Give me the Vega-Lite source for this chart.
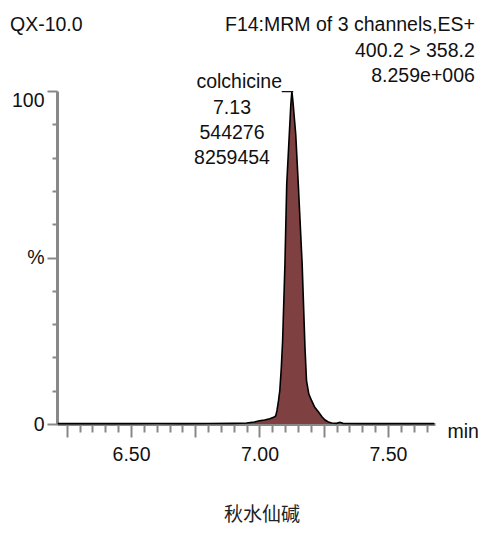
{
  "$schema": "https://vega.github.io/schema/vega-lite/v6.json",
  "width": 378,
  "height": 333,
  "autosize": {"type": "none"},
  "padding": {"left": 57, "top": 91, "right": 49, "bottom": 110},
  "background": "white",
  "config": {"view": {"stroke": null}, "font": "Liberation Sans"},
  "title": {
    "text": "秋水仙碱",
    "orient": "bottom",
    "anchor": "middle",
    "dx": 16,
    "offset": 42,
    "font": "Noto Sans CJK SC",
    "fontSize": 19,
    "fontWeight": "normal",
    "color": "#222222"
  },
  "encoding": {
    "x": {
      "field": "t",
      "type": "quantitative",
      "scale": {"domain": [6.212, 7.683], "nice": false, "zero": false},
      "axis": {
        "values": [6.25, 6.3, 6.35, 6.4, 6.45, 6.5, 6.55, 6.6, 6.65, 6.7, 6.75, 6.8, 6.85, 6.9, 6.95, 7.0, 7.05, 7.1, 7.15, 7.2, 7.25, 7.3, 7.35, 7.4, 7.45, 7.5, 7.55, 7.6, 7.65],
        "labelExpr": "abs(datum.value*2 - round(datum.value*2)) < 0.001 ? format(datum.value, '.2f') : ''",
        "tickSize": {"condition": {"test": "abs(datum.value*4 - round(datum.value*4)) < 0.001", "value": 13}, "value": 8},
        "tickColor": "#888888",
        "tickWidth": 2,
        "domainColor": "#888888",
        "domainWidth": 3,
        "grid": false,
        "labelOverlap": false,
        "labelFlush": false,
        "labelFont": "Liberation Sans",
        "labelFontSize": 19.5,
        "labelColor": "#111111",
        "labelPadding": 8,
        "title": "min",
        "titleX": 390,
        "titleY": 13,
        "titleAlign": "left",
        "titleBaseline": "alphabetic",
        "titleFont": "Liberation Sans",
        "titleFontSize": 19.5,
        "titleFontWeight": "normal",
        "titleColor": "#111111"
      }
    },
    "y": {
      "field": "v",
      "type": "quantitative",
      "scale": {"domain": [0, 100], "nice": false, "zero": false},
      "axis": {
        "values": [0, 10, 20, 30, 40, 50, 60, 70, 80, 90, 100],
        "labelExpr": "datum.value == 50 ? '%' : (datum.value == 0 || datum.value == 100 ? datum.label : '')",
        "tickSize": {"condition": {"test": "datum.value % 50 == 0", "value": 10}, "value": 5},
        "labelBaseline": {"condition": {"test": "datum.value == 100", "value": "top"}, "value": "middle"},
        "tickColor": "#888888",
        "tickWidth": 2,
        "domainColor": "#888888",
        "domainWidth": 3,
        "grid": false,
        "labelOverlap": false,
        "labelFlush": false,
        "labelFont": "Liberation Sans",
        "labelFontSize": 19.5,
        "labelColor": "#111111",
        "labelPadding": 3,
        "title": null
      }
    }
  },
  "layer": [
    {
      "data": {"values": [
        {"t": 6.215, "v": 0.1}, {"t": 6.3, "v": 0.1}, {"t": 6.4, "v": 0.1}, {"t": 6.5, "v": 0.1},
        {"t": 6.6, "v": 0.15}, {"t": 6.7, "v": 0.1}, {"t": 6.8, "v": 0.15}, {"t": 6.9, "v": 0.2},
        {"t": 6.95, "v": 0.3}, {"t": 6.98, "v": 0.6}, {"t": 7.0, "v": 1.0}, {"t": 7.02, "v": 1.2},
        {"t": 7.04, "v": 1.6}, {"t": 7.055, "v": 2.0}, {"t": 7.063, "v": 2.4}, {"t": 7.068, "v": 4.0},
        {"t": 7.074, "v": 7}, {"t": 7.079, "v": 10}, {"t": 7.085, "v": 17}, {"t": 7.09, "v": 25},
        {"t": 7.099, "v": 48}, {"t": 7.106, "v": 72}, {"t": 7.116, "v": 87}, {"t": 7.122, "v": 96},
        {"t": 7.126, "v": 100}, {"t": 7.13, "v": 97}, {"t": 7.141, "v": 87}, {"t": 7.151, "v": 72},
        {"t": 7.166, "v": 48}, {"t": 7.177, "v": 23}, {"t": 7.183, "v": 13}, {"t": 7.192, "v": 9},
        {"t": 7.203, "v": 7}, {"t": 7.215, "v": 5}, {"t": 7.229, "v": 3.7}, {"t": 7.243, "v": 2.2},
        {"t": 7.255, "v": 1.2}, {"t": 7.268, "v": 0.6}, {"t": 7.281, "v": 0.3}, {"t": 7.3, "v": 0.2},
        {"t": 7.313, "v": 0.5}, {"t": 7.325, "v": 0.2}, {"t": 7.4, "v": 0.1}, {"t": 7.5, "v": 0.1},
        {"t": 7.6, "v": 0.1}, {"t": 7.68, "v": 0.1}
      ]},
      "mark": {"type": "area", "color": "#7e4040", "opacity": 1, "interpolate": "linear", "line": {"color": "#000000", "strokeWidth": 1.6}}
    },
    {
      "data": {"values": [{"label": "QX-10.0", "t": 6.029, "v": 118.1}]},
      "mark": {"type": "text", "align": "left", "baseline": "alphabetic", "font": "Liberation Sans", "fontSize": 19.5, "color": "#111111"},
      "encoding": {"text": {"field": "label"}}
    },
    {
      "data": {"values": [
        {"label": "F14:MRM of 3 channels,ES+", "t": 7.838, "v": 117.9},
        {"label": "400.2 > 358.2", "t": 7.838, "v": 110.1},
        {"label": "8.259e+006", "t": 7.838, "v": 102.7}
      ]},
      "mark": {"type": "text", "align": "right", "baseline": "alphabetic", "font": "Liberation Sans", "fontSize": 19.5, "color": "#111111"},
      "encoding": {"text": {"field": "label"}}
    },
    {
      "data": {"values": [{"label": "colchicine_", "t": 7.13, "v": 101.0}]},
      "mark": {"type": "text", "align": "right", "baseline": "alphabetic", "font": "Liberation Sans", "fontSize": 19.5, "color": "#111111"},
      "encoding": {"text": {"field": "label"}}
    },
    {
      "data": {"values": [
        {"label": "7.13", "t": 6.893, "v": 93.1},
        {"label": "544276", "t": 6.893, "v": 85.6},
        {"label": "8259454", "t": 6.893, "v": 78.1}
      ]},
      "mark": {"type": "text", "align": "center", "baseline": "alphabetic", "font": "Liberation Sans", "fontSize": 19.5, "color": "#111111"},
      "encoding": {"text": {"field": "label"}}
    }
  ]
}
